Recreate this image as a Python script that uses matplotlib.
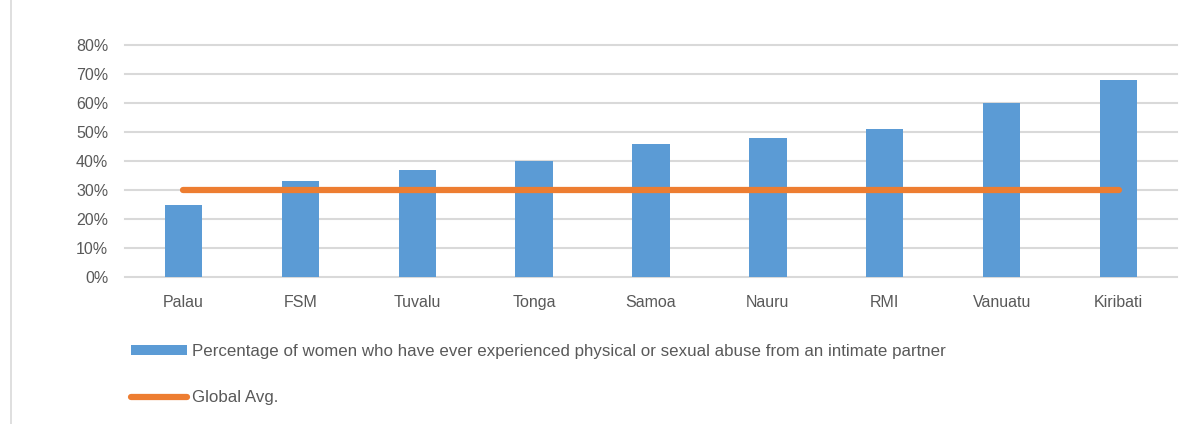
import matplotlib
matplotlib.use("Agg")
import matplotlib.pyplot as plt
from matplotlib.patches import Rectangle
from matplotlib.ticker import PercentFormatter

countries = ['Palau', 'FSM', 'Tuvalu', 'Tonga', 'Samoa', 'Nauru', 'RMI', 'Vanuatu', 'Kiribati']
abuse_pct = [25, 33, 37, 40, 46, 48, 51, 60, 68]
global_avg = [30, 30, 30, 30, 30, 30, 30, 30, 30]

bar_label = 'Percentage of women who have ever experienced physical or sexual abuse from an intimate partner'
line_label = 'Global Avg.'

plt.rcParams['font.family'] = ['Liberation Sans', 'DejaVu Sans']

text_col = '#595959'
grid_col = '#d9d9d9'


def main():
    fig = plt.figure(figsize=(12.04, 4.24), dpi=100)
    ax = fig.add_axes([125 / 1204, 1 - 277 / 424, (1177 - 125) / 1204, (277 - 45) / 424])

    # light chart border like the spreadsheet frame
    fig.add_artist(Rectangle((11 / 1204, -0.01), 1.2, 1.2, transform=fig.transFigure,
                             fill=False, edgecolor='#d9d9d9', lw=1.2))

    x = range(len(countries))
    bars = ax.bar(x, abuse_pct, width=0.32, color='#5b9bd5', label=bar_label, zorder=2)
    line, = ax.plot(x, global_avg, color='#ed7d31', lw=4.5, solid_capstyle='round',
                    label=line_label, zorder=3)

    ax.set_xlim(-0.5, len(countries) - 0.5)
    ax.set_ylim(0, 80)
    ax.set_yticks(range(0, 81, 10))
    ax.yaxis.set_major_formatter(PercentFormatter(decimals=0))
    ax.set_xticks(list(x))
    ax.set_xticklabels(countries)

    ax.grid(axis='y', color=grid_col, lw=1.5, zorder=0, clip_on=False)
    for s in ax.spines.values():
        s.set_visible(False)
    ax.tick_params(axis='both', length=0, labelsize=11.5, labelcolor=text_col)
    ax.tick_params(axis='x', pad=13)
    ax.tick_params(axis='y', pad=12)

    fig.legend([bars, line], [bar_label, line_label],
               loc='upper left', bbox_to_anchor=(131 / 1204, 1 - 344 / 424),
               frameon=False, fontsize=12.2, labelcolor=text_col,
               handlelength=3.3, handleheight=0.55, handletextpad=0.3,
               labelspacing=1.85, borderpad=0, borderaxespad=0)

    fig.savefig('out.png', dpi=100)


if __name__ == "__main__":
    main()
